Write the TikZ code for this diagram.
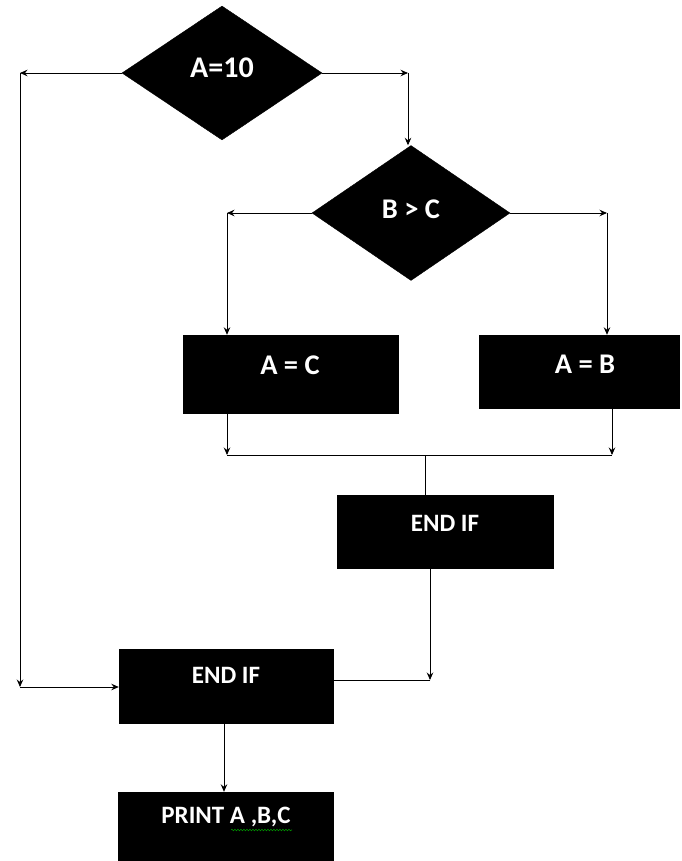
\documentclass[tikz,border=0pt]{standalone}
\usepackage{fontspec}
\setmainfont{Carlito}
\usetikzlibrary{shapes.geometric,arrows.meta,decorations.pathmorphing}
\begin{document}
\begin{tikzpicture}[x=1pt,y=-1pt,
  blk/.style={fill=black,draw=black,inner sep=0pt},
  dia/.style={blk,diamond,minimum width=200pt,minimum height=134pt,aspect=1.49},
  boxx/.style={blk,rectangle},
  lbl/.style={text=white,font=\bfseries\fontsize{25}{28}\selectfont,inner sep=0pt},
  big/.style={lbl,font=\bfseries\fontsize{28.5}{32}\selectfont},
  ln/.style={draw=black,line width=0.9pt},
  arr/.style={ln,-{Stealth[length=7.5pt,width=6.5pt,inset=2.5pt]}}
]
\useasboundingbox (0,0) rectangle (681,861);
% shapes
\node[dia] (d1) at (222,73) {};
\node[big,font=\bfseries\fontsize{30}{34}\selectfont] (d1t) at (222,68) {A=10};
\node[dia,minimum width=198pt,minimum height=135pt,aspect=1.47] (d2) at (411,213) {};
\node[big] (d2t) at (411,209) {B > C};
\node[boxx,minimum width=215pt,minimum height=78pt] (ac) at (290.5,374) {};
\node[big] (act) at (290,365) {A = C};
\node[boxx,minimum width=200pt,minimum height=73pt] (ab) at (579,371.5) {};
\node[big] (abt) at (585,364) {A = B};
\node[boxx,minimum width=216pt,minimum height=73pt] (e1) at (445,531.5) {};
\node[lbl] (e1t) at (445,523) {END IF};
\node[boxx,minimum width=214pt,minimum height=74pt] (e2) at (226,686) {};
\node[lbl] (e2t) at (226,675) {END IF};
\node[boxx,minimum width=215pt,minimum height=72pt] (pr) at (225.5,828) {};
\node[lbl] (prt) at (226,817) {PRINT A ,B,C};
% corner coordinates
\coordinate (c1) at (20,73);
\coordinate (c2) at (20,687);
\coordinate (c3) at (408,73);
\coordinate (c4) at (227,213);
\coordinate (c5) at (607,213);
\coordinate (j1) at (227,455);
\coordinate (j2) at (612,455);
\coordinate (jm) at (425,455);
\coordinate (k1) at (430,680);
% connectors
\draw[arr] (d1.west) -- (c1);
\draw[arr] (c1) -- (c2);
\draw[arr] (c2) -- (c2 -| e2.west);
\draw[arr] (d1.east) -- (c3);
\draw[arr] (c3) -- (c3 |- d2.north);
\draw[arr] (d2.west) -- (c4);
\draw[arr] (c4) -- (c4 |- ac.north);
\draw[arr] (d2.east) -- (c5);
\draw[arr] (c5) -- (c5 |- ab.north);
\draw[arr] (j1 |- ac.south) -- (j1);
\draw[arr] (j2 |- ab.south) -- (j2);
\draw[ln] (j1) -- (j2);
\draw[ln] (jm) -- (jm |- e1.north);
\draw[arr] (k1 |- e1.south) -- (k1);
\draw[ln] (k1) -- (k1 -| e2.east);
\draw[arr] (224,723) coordinate (e2b) -- (e2b |- pr.north);
% spell-check squiggle
\draw[green!55!black,line width=0.6pt,decorate,decoration={snake,amplitude=0.8pt,segment length=3pt}] (231,830) -- (292,830);
\end{tikzpicture}
\end{document}
